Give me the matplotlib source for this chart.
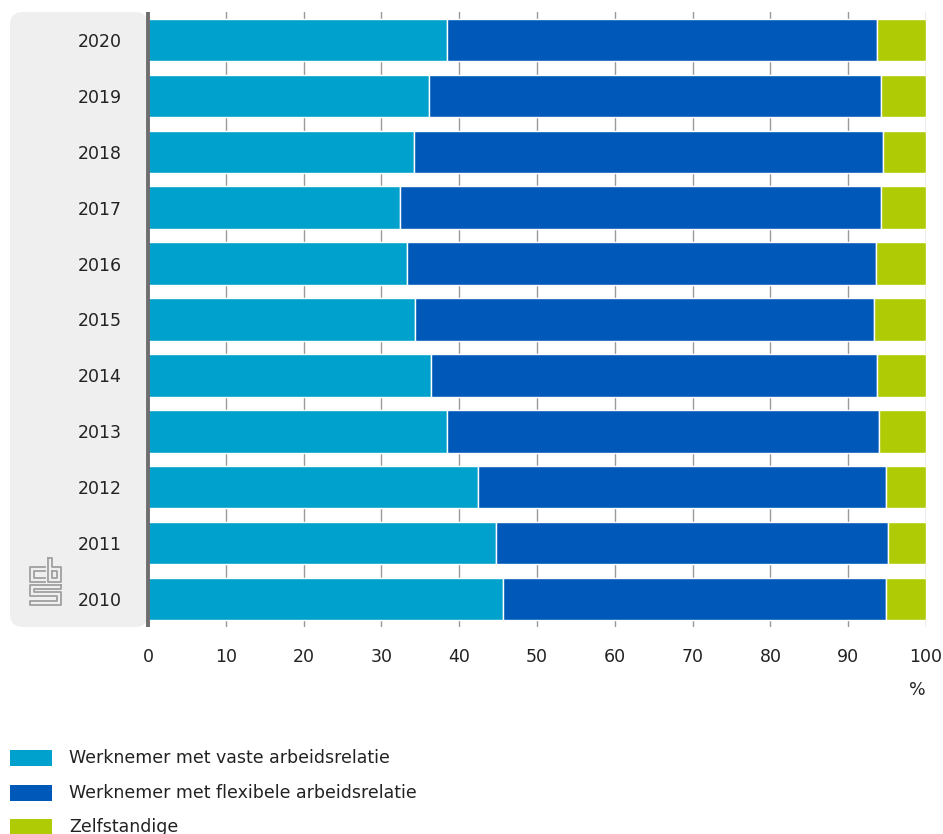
import matplotlib
matplotlib.use("Agg")
import matplotlib.pyplot as plt
import matplotlib.patches as pat
from matplotlib.lines import Line2D
import numpy as np

years = ["2010", "2011", "2012", "2013", "2014", "2015", "2016", "2017", "2018", "2019", "2020"]
vaste = [45.6, 44.7, 42.4, 38.4, 36.4, 34.3, 33.3, 32.4, 34.2, 36.1, 38.4]
flexibel = [49.3, 50.4, 52.5, 55.6, 57.3, 59.0, 60.3, 61.8, 60.3, 58.1, 55.3]
zelfstandig = [5.1, 4.9, 5.1, 6.0, 6.3, 6.7, 6.4, 5.8, 5.5, 5.8, 6.3]
labels = ["Werknemer met vaste arbeidsrelatie",
          "Werknemer met flexibele arbeidsrelatie",
          "Zelfstandige"]
colors = ["#00a1cd", "#0058b8", "#afcb05"]

W, H = 943, 834
fig = plt.figure(figsize=(W / 100, H / 100), dpi=100)

def fx(px):
    return px / W

def fy(py):
    return 1 - py / H

# grijs paneel achter de jaartallen
panel = pat.FancyBboxPatch((fx(10), fy(627)), fx(138), fy(12) - fy(627),
                           boxstyle="round,pad=0,rounding_size=0.014",
                           transform=fig.transFigure, facecolor="#efefef",
                           edgecolor="none", zorder=-1, mutation_aspect=W / H)
fig.patches.append(panel)

ax = fig.add_axes([fx(148), fy(627), fx(926) - fx(148), fy(12) - fy(627)])
ax.set_facecolor("none")

y = np.arange(len(years))
left = np.zeros(len(years))
for vals, col in zip([vaste, flexibel, zelfstandig], colors):
    ax.barh(y, vals, left=left, height=0.76, color=col, edgecolor="white",
            linewidth=1, zorder=3)
    left = left + np.array(vals)

ax.set_xlim(0, 100)
ax.set_ylim(-0.5, len(years) - 0.5)
ax.set_yticks(y)
ax.set_yticklabels(years, fontsize=12.5, color="#222222")
ax.set_xticks(range(0, 101, 10))
ax.tick_params(axis="x", labelsize=12.5, colors="#222222", length=0, pad=15)
ax.tick_params(axis="y", length=0, pad=19)
ax.grid(axis="x", color="#999999", linewidth=1, zorder=0)
for s in ["top", "right", "bottom"]:
    ax.spines[s].set_visible(False)
ax.spines["left"].set_color("#6e6e6e")
ax.spines["left"].set_linewidth(2.8)
ax.spines["left"].set_capstyle("butt")
ax.spines["left"].set_zorder(4)

fig.text(fx(926), fy(690), "%", ha="right", va="center", fontsize=12.5, color="#222222")

# cbs logo (vereenvoudigd)
logo = [
    [(45, 567), (30, 567), (30, 582), (45, 582)],
    [(45, 571), (34, 571), (34, 578), (45, 578)],
    [(48, 558), (48, 582), (61, 582), (61, 567), (52, 567), (52, 558), (48, 558)],
    [(52, 571), (57, 571), (57, 578), (52, 578), (52, 571)],
    [(61, 585), (30, 585), (30, 596), (57, 596), (57, 601), (30, 601), (30, 605), (61, 605),
     (61, 592), (34, 592), (34, 589), (61, 589), (61, 585)],
]
for pts in logo:
    xs = [fx(p[0]) for p in pts]
    ys = [fy(p[1]) for p in pts]
    fig.add_artist(Line2D(xs, ys, transform=fig.transFigure, color="#a0a0a0", linewidth=1.3))

# legenda
for i, (lab, col) in enumerate(zip(labels, colors)):
    yc = 758 + i * 34.5
    fig.patches.append(pat.Rectangle((fx(10), fy(yc + 8)), fx(42), fy(yc - 8) - fy(yc + 8),
                                     transform=fig.transFigure, facecolor=col,
                                     edgecolor="none"))
    fig.text(fx(69), fy(yc), lab, ha="left", va="center", fontsize=12.5, color="#222222")

fig.savefig("out.png", dpi=100)
